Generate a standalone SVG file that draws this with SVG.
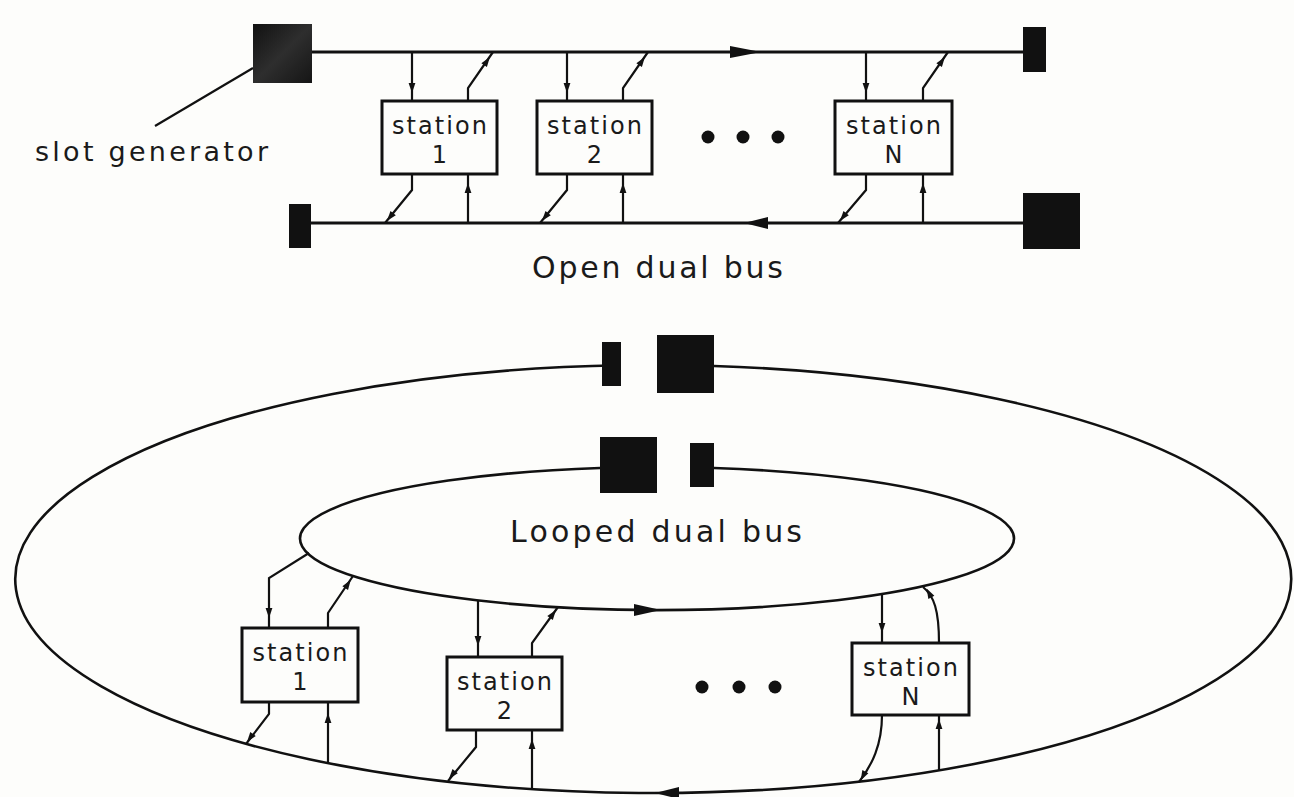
<svg xmlns="http://www.w3.org/2000/svg" xmlns:xlink="http://www.w3.org/1999/xlink" width="1294" height="797" viewBox="0 0 1294 797">
<style>
.bus{fill:none;stroke:#111;stroke-width:3}
.ring{fill:none;stroke:#111;stroke-width:2.6}
.tap{fill:none;stroke:#111;stroke-width:2.2}
.box{fill:#fdfdfb;stroke:#111;stroke-width:3}
.blk{fill:#111}
.lbl{font-family:"DejaVu Sans","Liberation Sans",sans-serif;fill:#1a1a1a}
.st{font-size:24px;text-anchor:middle}
.cap{font-size:30px}
.dot{fill:#111}
</style>
<defs>
<path id="ah" d="M 5 0 L -5 -3.4 L -5 3.4 Z" fill="#111"/>
<linearGradient id="sg" x1="0" y1="0" x2="1" y2="1">
<stop offset="0" stop-color="#111"/>
<stop offset="0.5" stop-color="#2e2e2e"/>
<stop offset="1" stop-color="#151515"/>
</linearGradient>
</defs>
<rect width="1294" height="797" fill="#fdfdfb"/>

<g id="connectors">
<!-- open dual bus -->
<path class="bus" d="M 312 52 H 1023"/>
<path class="bus" d="M 311 223 H 1023"/>
<polygon class="blk" points="730,46 761,52 730,58"/>
<polygon class="blk" points="768,217 744,223 768,229"/>
<line class="tap" x1="155" y1="126" x2="253" y2="68"/>
<!-- station 1 top -->
<path class="tap" d="M 412 52 V 101"/>
<use xlink:href="#ah" transform="translate(412 88) rotate(90)"/>
<path class="tap" d="M 468 101 V 88 L 493 52"/>
<use xlink:href="#ah" transform="translate(487 61) rotate(-55)"/>
<path class="tap" d="M 412 174 V 190 L 385 223"/>
<use xlink:href="#ah" transform="translate(390 217) rotate(129)"/>
<path class="tap" d="M 468 223 V 174"/>
<use xlink:href="#ah" transform="translate(468 188) rotate(-90)"/>
<!-- station 2 top -->
<path class="tap" d="M 567 52 V 101"/>
<use xlink:href="#ah" transform="translate(567 88) rotate(90)"/>
<path class="tap" d="M 623 101 V 88 L 648 52"/>
<use xlink:href="#ah" transform="translate(642 61) rotate(-55)"/>
<path class="tap" d="M 567 174 V 190 L 540 223"/>
<use xlink:href="#ah" transform="translate(545 217) rotate(129)"/>
<path class="tap" d="M 623 223 V 174"/>
<use xlink:href="#ah" transform="translate(623 188) rotate(-90)"/>
<!-- station N top -->
<path class="tap" d="M 866 52 V 101"/>
<use xlink:href="#ah" transform="translate(866 88) rotate(90)"/>
<path class="tap" d="M 923 101 V 88 L 948 52"/>
<use xlink:href="#ah" transform="translate(942 61) rotate(-55)"/>
<path class="tap" d="M 866 174 V 190 L 838 223"/>
<use xlink:href="#ah" transform="translate(843 217) rotate(129)"/>
<path class="tap" d="M 923 223 V 174"/>
<use xlink:href="#ah" transform="translate(923 188) rotate(-90)"/>

<!-- looped dual bus -->
<path class="ring" d="M 621 365.3 A 638 214 0 1 0 714 366"/>
<path class="ring" d="M 600 468 A 357 71.5 0 1 0 714 468"/>
<polygon class="blk" points="634,604 661,610 634,616"/>
<polygon class="blk" points="655,793 679,787 679,799"/>
<!-- loop station 1 -->
<path class="tap" d="M 309 553 L 269 578 V 628"/>
<use xlink:href="#ah" transform="translate(269 613) rotate(90)"/>
<path class="tap" d="M 328 628 V 613 L 353 576"/>
<use xlink:href="#ah" transform="translate(348 584) rotate(-56)"/>
<path class="tap" d="M 269 702 V 714 L 246 744"/>
<use xlink:href="#ah" transform="translate(250 738) rotate(127)"/>
<path class="tap" d="M 328 763 V 702"/>
<use xlink:href="#ah" transform="translate(328 718) rotate(-90)"/>
<!-- loop station 2 -->
<path class="tap" d="M 478 600 V 657"/>
<use xlink:href="#ah" transform="translate(478 641) rotate(90)"/>
<path class="tap" d="M 532 657 V 643 L 558 607"/>
<use xlink:href="#ah" transform="translate(553 614) rotate(-54)"/>
<path class="tap" d="M 476 730 V 747 L 448 781"/>
<use xlink:href="#ah" transform="translate(452 775) rotate(129)"/>
<path class="tap" d="M 532 789 V 730"/>
<use xlink:href="#ah" transform="translate(532 744) rotate(-90)"/>
<!-- loop station N -->
<path class="tap" d="M 882 594 V 643"/>
<use xlink:href="#ah" transform="translate(882 628) rotate(90)"/>
<path class="tap" d="M 939 643 C 939 610 934 596 923 587"/>
<use xlink:href="#ah" transform="translate(929 593) rotate(-118)"/>
<path class="tap" d="M 882 715 C 882 745 872 765 859 782"/>
<use xlink:href="#ah" transform="translate(863 776) rotate(118)"/>
<path class="tap" d="M 939 770 V 715"/>
<use xlink:href="#ah" transform="translate(939 724) rotate(-90)"/>
</g>

<g id="slot-generator">
<rect x="253" y="24" width="59" height="59" fill="url(#sg)"/>
<text class="lbl" x="35" y="161" font-size="27" textLength="233" lengthAdjust="spacing">slot generator</text>
</g>
<g id="term-top-right"><rect class="blk" x="1023" y="27" width="23" height="45"/></g>
<g id="term-bottom-left"><rect class="blk" x="289" y="204" width="22" height="44"/></g>
<g id="gen-bottom-right"><rect class="blk" x="1023" y="193" width="57" height="56"/></g>

<g id="station-1">
<rect class="box" x="382" y="101" width="115" height="73"/>
<text class="lbl st" x="439.5" y="134" textLength="95" lengthAdjust="spacing">station</text>
<text class="lbl st" x="439.5" y="163">1</text>
</g>
<g id="station-2">
<rect class="box" x="537" y="101" width="115" height="73"/>
<text class="lbl st" x="594.5" y="134" textLength="95" lengthAdjust="spacing">station</text>
<text class="lbl st" x="594.5" y="163">2</text>
</g>
<g id="dots-top">
<circle class="dot" cx="708" cy="137" r="6.5"/>
<circle class="dot" cx="743" cy="137" r="6.5"/>
<circle class="dot" cx="778" cy="137" r="6.5"/>
</g>
<g id="station-N">
<rect class="box" x="835" y="101" width="117" height="73"/>
<text class="lbl st" x="893.5" y="134" textLength="95" lengthAdjust="spacing">station</text>
<text class="lbl st" x="893.5" y="163">N</text>
</g>
<g id="title-open">
<text class="lbl cap" x="532" y="278" textLength="251" lengthAdjust="spacing">Open dual bus</text>
</g>

<g id="loop-term-outer-left"><rect class="blk" x="602" y="342" width="19" height="44"/></g>
<g id="loop-gen-outer"><rect class="blk" x="657" y="335" width="57" height="58"/></g>
<g id="loop-gen-inner"><rect class="blk" x="600" y="437" width="57" height="56"/></g>
<g id="loop-term-inner-right"><rect class="blk" x="690" y="443" width="24" height="44"/></g>
<g id="title-looped">
<text class="lbl cap" x="510" y="542" textLength="292" lengthAdjust="spacing">Looped dual bus</text>
</g>

<g id="loop-station-1">
<rect class="box" x="242" y="628" width="116" height="74"/>
<text class="lbl st" x="300" y="661" textLength="95" lengthAdjust="spacing">station</text>
<text class="lbl st" x="300" y="690">1</text>
</g>
<g id="loop-station-2">
<rect class="box" x="447" y="657" width="115" height="73"/>
<text class="lbl st" x="504.5" y="690" textLength="95" lengthAdjust="spacing">station</text>
<text class="lbl st" x="504.5" y="719">2</text>
</g>
<g id="dots-bottom">
<circle class="dot" cx="702" cy="687" r="6.5"/>
<circle class="dot" cx="739" cy="687" r="6.5"/>
<circle class="dot" cx="775" cy="687" r="6.5"/>
</g>
<g id="loop-station-N">
<rect class="box" x="852" y="643" width="117" height="72"/>
<text class="lbl st" x="910.5" y="676" textLength="95" lengthAdjust="spacing">station</text>
<text class="lbl st" x="910.5" y="705">N</text>
</g>
</svg>
